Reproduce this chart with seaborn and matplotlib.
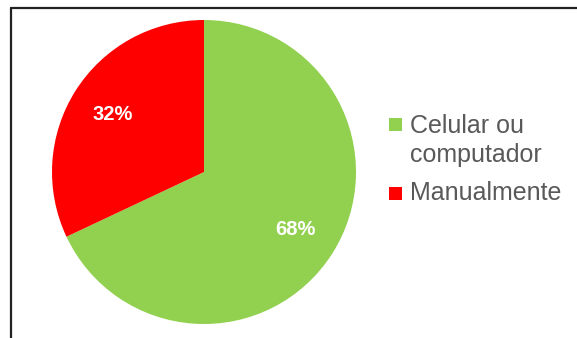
import matplotlib
matplotlib.use("Agg")
import matplotlib.pyplot as plt
import seaborn as sns
from matplotlib.patches import Rectangle
from matplotlib.lines import Line2D

categories = ["Celular ou\ncomputador", "Manualmente"]
values = [68, 32]
colors = ["#92D050", "#FF0000"]

sns.set_theme(style="white")
plt.rcParams['font.family'] = ['Liberation Sans', 'DejaVu Sans']

W, H = 577, 338
fig = plt.figure(figsize=(W / 100, H / 100), dpi=100)
fig.patch.set_facecolor("white")

# Pie axes: center (204,172) px from top-left, radius 152 px
r = 152
cx, cy = 204, 172
ax = fig.add_axes([(cx - r) / W, (H - cy - r) / H, 2 * r / W, 2 * r / H])
wedges, texts, autotexts = ax.pie(
    values, colors=colors, startangle=90, counterclock=False,
    autopct=lambda p: f"{p:.0f}%", pctdistance=0.71, radius=1.0,
    wedgeprops=dict(linewidth=0),
    textprops=dict(color="white", fontsize=14.5, fontweight="bold"),
)
ax.set_xlim(-1, 1)
ax.set_ylim(-1, 1)
ax.set_aspect("equal")
ax.axis("off")

# Legend (drawn manually so the marker aligns with the first text line)
def fx(px):
    return px / W

def fy(py):
    return (H - py) / H

legend_items = [
    (categories[0].split("\n"), colors[0], 118, [133, 162]),
    (categories[1].split("\n"), colors[1], 187, [200]),
]
for lines, col, top, baselines in legend_items:
    fig.add_artist(Rectangle((fx(389), fy(top + 13)), 13 / W, 13 / H,
                             transform=fig.transFigure, facecolor=col, edgecolor="none"))
    for line, b in zip(lines, baselines):
        fig.text(fx(410), fy(b), line, fontsize=18, color="#595959",
                 ha="left", va="baseline")

# Outer frame (top and left edges visible)
fig.add_artist(Line2D([11 / W, 1.0], [fy(8), fy(8)], transform=fig.transFigure,
                      color="#222222", linewidth=1.6))
fig.add_artist(Line2D([11 / W, 11 / W], [0, fy(8)], transform=fig.transFigure,
                      color="#222222", linewidth=1.6))

fig.savefig("out.png", dpi=100, facecolor="white")
